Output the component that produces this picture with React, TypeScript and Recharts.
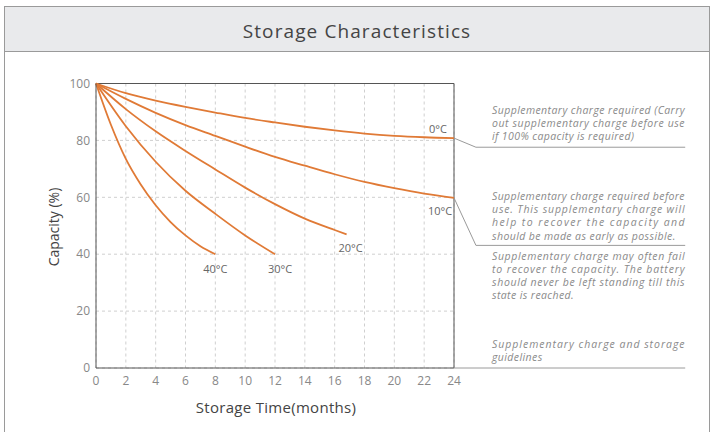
import React from 'react';
import { LineChart, Line, XAxis, YAxis, CartesianGrid, ReferenceLine } from 'recharts';

const MONTH_TICKS = [0, 2, 4, 6, 8, 10, 12, 14, 16, 18, 20, 22, 24];
const CAPACITY_TICKS = [0, 20, 40, 60, 80, 100];

const temp0C = [
  { m: 0, c: 100 }, { m: 2, c: 96.6 }, { m: 4, c: 94.0 }, { m: 6, c: 91.8 },
  { m: 8, c: 89.8 }, { m: 10, c: 87.9 }, { m: 12, c: 86.3 }, { m: 14, c: 84.8 },
  { m: 16, c: 83.5 }, { m: 18, c: 82.4 }, { m: 20, c: 81.6 }, { m: 22, c: 81.1 }, { m: 24, c: 80.8 },
];
const temp10C = [
  { m: 0, c: 100 }, { m: 2, c: 94.6 }, { m: 4, c: 89.7 }, { m: 6, c: 85.4 },
  { m: 8, c: 81.6 }, { m: 10, c: 77.8 }, { m: 12, c: 74.2 }, { m: 14, c: 71.1 },
  { m: 16, c: 68.1 }, { m: 18, c: 65.4 }, { m: 20, c: 63.2 }, { m: 22, c: 61.3 }, { m: 24, c: 59.8 },
];
const temp20C = [
  { m: 0, c: 100 }, { m: 2, c: 91.0 }, { m: 4, c: 83.2 }, { m: 6, c: 76.3 },
  { m: 8, c: 69.8 }, { m: 10, c: 63.4 }, { m: 12, c: 57.6 }, { m: 14, c: 52.5 },
  { m: 16, c: 48.5 }, { m: 16.8, c: 47.0 },
];
const temp30C = [
  { m: 0, c: 100 }, { m: 2, c: 85.0 }, { m: 4, c: 72.5 }, { m: 6, c: 62.3 },
  { m: 8, c: 54.2 }, { m: 10, c: 46.6 }, { m: 12, c: 40.0 },
];
const temp40C = [
  { m: 0, c: 100 }, { m: 1, c: 85.5 }, { m: 2, c: 73.5 }, { m: 3, c: 64.5 },
  { m: 4, c: 57.2 }, { m: 5, c: 51.3 }, { m: 6, c: 46.6 }, { m: 7, c: 42.8 }, { m: 8, c: 40.0 },
];

const SERIES_NAMES = ['0°C', '10°C', '20°C', '30°C', '40°C'];

// annotation leader lines (in chart units)
const LEADER_ELBOW_X = 25.47;
const LEADER_END_X = 39.5;
const LEADER_0C_Y = 77.6;
const LEADER_10C_Y = 43.1;

const NOTE_BLOCKS = [
  { lines: ['Supplementary charge required (Carry', 'out supplementary charge before use', 'if 100% capacity is required)'], top: 114 },
  { lines: ['Supplementary charge required before', 'use. This supplementary charge will', 'help to recover the capacity and', 'should be made as early as possible.'], top: 200 },
  { lines: ['Supplementary charge may often fail', 'to recover the capacity. The battery', 'should never be left standing till this', 'state is reached.'], top: 259.5 },
  { lines: ['Supplementary charge and storage', 'guidelines'], top: 348 },
];

const ORANGE = '#e07a36';
const FONT = '"Open Sans", sans-serif';

const last = (arr) => arr[arr.length - 1];

const endLabel = (text, n, dx, dy) => (props) => {
  if (props.index !== n - 1) return <g />;
  const x = props.x ?? (props.viewBox && props.viewBox.x);
  const y = props.y ?? (props.viewBox && props.viewBox.y);
  return (
    <text x={x + dx} y={y + dy} textAnchor="middle" dominantBaseline="central" fill="#666" fontSize={11} fontFamily={FONT}>
      {text}
    </text>
  );
};

const Frame = () => (
  <svg width={716} height={432} style={{ position: 'absolute', left: 0, top: 0 }}>
    <rect x={4.5} y={6.5} width={705} height={45} fill="#e9eaec" stroke="#9a9a9a" strokeWidth={1} />
    <line x1={4.5} y1={6} x2={4.5} y2={432} stroke="#9a9a9a" strokeWidth={1} />
    <line x1={709.5} y1={6} x2={709.5} y2={432} stroke="#9a9a9a" strokeWidth={1} />
    <text x={357} y={31} textAnchor="middle" dominantBaseline="central" fill="#444" fontSize={19} letterSpacing={1.1} fontFamily={FONT}>
      Storage Characteristics
    </text>
    <text x={53} y={227} transform="rotate(-90 53 227)" textAnchor="middle" dominantBaseline="central" fill="#444" fontSize={14} fontFamily={FONT}>
      Capacity (%)
    </text>
    <text x={276} y={407} textAnchor="middle" dominantBaseline="central" fill="#444" fontSize={15} letterSpacing={0.3} fontFamily={FONT}>
      Storage Time(months)
    </text>
    {NOTE_BLOCKS.map((b, bi) => (
      <g key={bi}>
        {b.lines.map((l, li) => {
          const isLast = li === b.lines.length - 1;
          return (
            <text
              key={li}
              x={492}
              y={b.top + li * 13.2}
              fill="#8a8a8a"
              fontSize={10.5}
              letterSpacing={0.4}
              fontStyle="italic"
              fontFamily={FONT}
              {...(isLast ? {} : { textLength: 193, lengthAdjust: 'spacing' })}
            >
              {l}
            </text>
          );
        })}
      </g>
    ))}
  </svg>
);

export default function App() {
  const leaderStroke = '#9a9a9a';
  const e0 = last(temp0C);
  const e10 = last(temp10C);
  return (
    <div style={{ position: 'absolute', left: 0, top: 0, width: 716, height: 432, background: '#fff' }}>
      <Frame />
      <div style={{ position: 'absolute', left: 0, top: 0 }}>
        <LineChart width={716} height={432} margin={{ top: 83.5, right: 262, bottom: 34, left: 56 }}>
          <CartesianGrid strokeDasharray="3 3" stroke="#cfcfcf" />
          <XAxis
            type="number"
            dataKey="m"
            domain={[0, 24]}
            ticks={MONTH_TICKS}
            interval={0}
            height={30}
            tickLine={false}
            axisLine={{ stroke: '#555' }}
            tick={{ fill: '#888', fontSize: 12, fontFamily: FONT }}
            allowDuplicatedCategory={false}
          />
          <YAxis
            type="number"
            dataKey="c"
            domain={[0, 100]}
            ticks={CAPACITY_TICKS}
            interval={0}
            width={40}
            tickLine={false}
            tickMargin={0}
            axisLine={{ stroke: '#555' }}
            tick={{ fill: '#888', fontSize: 12, fontFamily: FONT }}
          />
          <ReferenceLine y={100} stroke="#555" />
          <ReferenceLine x={24} stroke="#555" />
          <ReferenceLine ifOverflow="visible" stroke={leaderStroke} segment={[{ x: 24, y: 0 }, { x: LEADER_END_X, y: 0 }]} />
          <ReferenceLine ifOverflow="visible" stroke={leaderStroke} segment={[{ x: e0.m, y: e0.c }, { x: LEADER_ELBOW_X, y: LEADER_0C_Y }]} />
          <ReferenceLine ifOverflow="visible" stroke={leaderStroke} segment={[{ x: LEADER_ELBOW_X, y: LEADER_0C_Y }, { x: LEADER_END_X, y: LEADER_0C_Y }]} />
          <ReferenceLine ifOverflow="visible" stroke={leaderStroke} segment={[{ x: e10.m, y: e10.c }, { x: LEADER_ELBOW_X, y: LEADER_10C_Y }]} />
          <ReferenceLine ifOverflow="visible" stroke={leaderStroke} segment={[{ x: LEADER_ELBOW_X, y: LEADER_10C_Y }, { x: LEADER_END_X, y: LEADER_10C_Y }]} />
          <Line data={temp0C} dataKey="c" type="monotone" stroke={ORANGE} strokeWidth={1.8} dot={false} isAnimationActive={false}
            label={endLabel(SERIES_NAMES[0], temp0C.length, -16, -10)} />
          <Line data={temp10C} dataKey="c" type="monotone" stroke={ORANGE} strokeWidth={1.8} dot={false} isAnimationActive={false}
            label={endLabel(SERIES_NAMES[1], temp10C.length, -14, 13)} />
          <Line data={temp20C} dataKey="c" type="monotone" stroke={ORANGE} strokeWidth={1.8} dot={false} isAnimationActive={false}
            label={endLabel(SERIES_NAMES[2], temp20C.length, 4, 13.5)} />
          <Line data={temp30C} dataKey="c" type="monotone" stroke={ORANGE} strokeWidth={1.8} dot={false} isAnimationActive={false}
            label={endLabel(SERIES_NAMES[3], temp30C.length, 5, 14.5)} />
          <Line data={temp40C} dataKey="c" type="monotone" stroke={ORANGE} strokeWidth={1.8} dot={false} isAnimationActive={false}
            label={endLabel(SERIES_NAMES[4], temp40C.length, 0, 14.5)} />
        </LineChart>
      </div>
    </div>
  );
}
